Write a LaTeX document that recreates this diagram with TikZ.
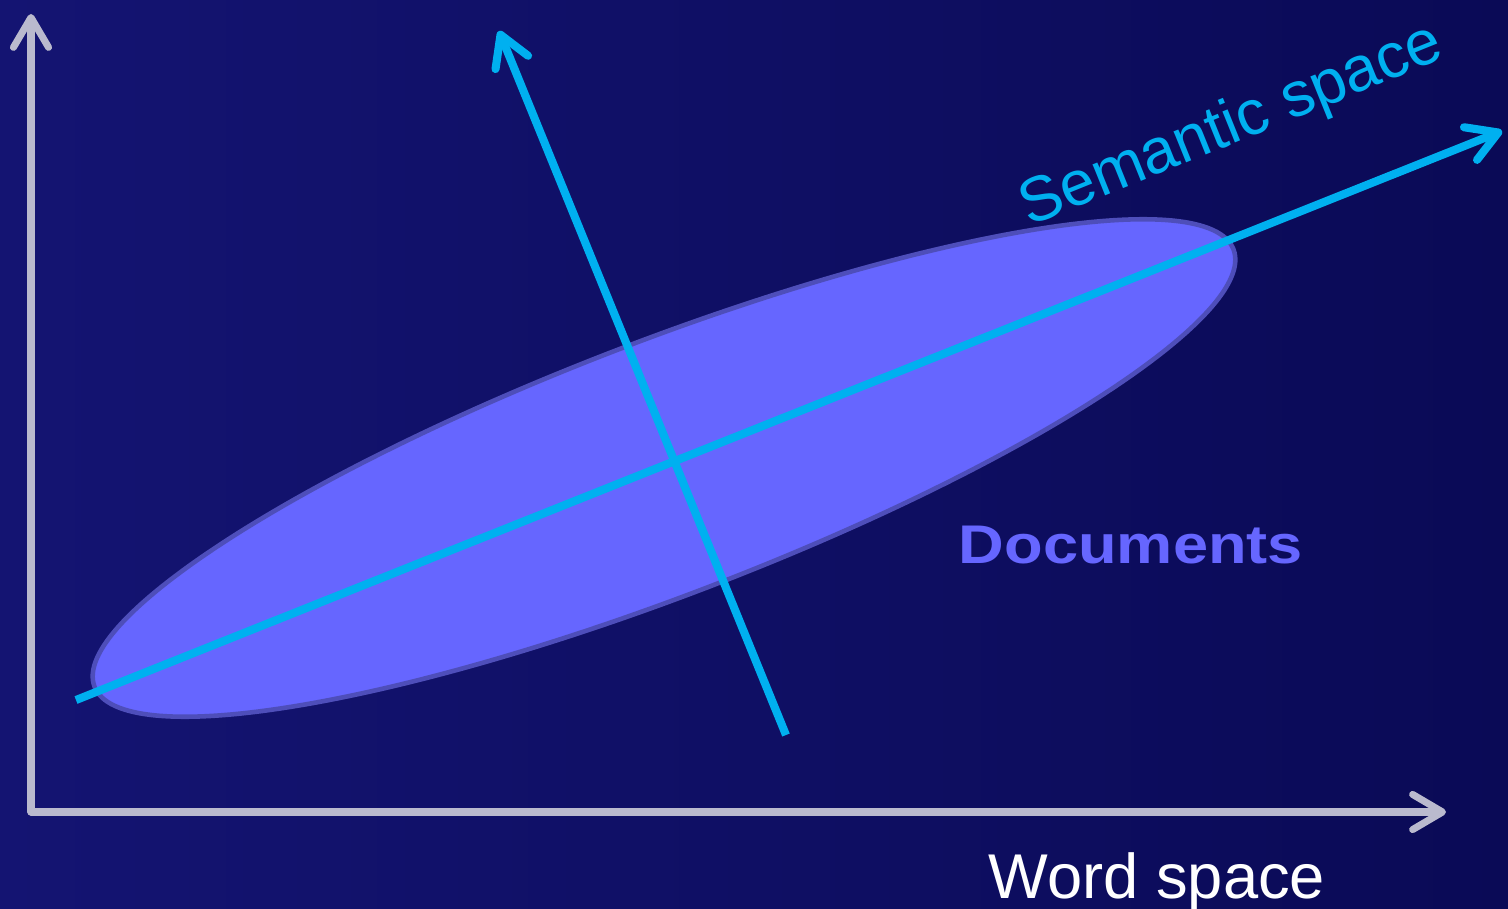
\documentclass[tikz,border=0pt]{standalone}
\usepackage{fontspec}
\setmainfont{Liberation Sans}
\usetikzlibrary{arrows.meta}

\definecolor{bgnavy}{RGB}{10,10,86}
\definecolor{bgnavylight}{RGB}{20,20,114}
\definecolor{axisgray}{RGB}{186,186,206}
\definecolor{semcyan}{RGB}{0,176,240}
\definecolor{docblue}{RGB}{102,102,255}
\definecolor{docedge}{RGB}{78,78,186}

\begin{document}
\begin{tikzpicture}[x=0.02cm, y=-0.02cm,
    barb/.style={-{Straight Barb[length=17pt,width=20pt,round]}},
    wordaxis/.style={axisgray, line width=4pt, line cap=round, barb},
    semaxis/.style={semcyan, line width=4.6pt, barb},
    bigtext/.style={font=\fontsize{36}{40}\selectfont, inner sep=0pt}]
    % Background
    \shade[left color=bgnavylight, right color=bgnavy] (0,0) rectangle (1508,909);
    \useasboundingbox (0,0) rectangle (1508,909);

    % Word space axes
    \coordinate (origin) at (31,812);
    \coordinate (ytip) at (31,14);
    \coordinate (xtip) at (1446,812);
    \foreach \t in {ytip,xtip} {
        \draw[wordaxis] (origin) -- (\t);
    }

    % Documents cloud
    \coordinate (docs) at (664,468);
    \filldraw[fill=docblue, draw=docedge, line width=2.6pt,
        rotate around={21:(docs)}] (docs) ellipse (610 and 127);

    % Semantic axes
    \coordinate (sem0) at (76,700);
    \coordinate (sem1) at (1502,131);
    \coordinate (perp0) at (786,735);
    \coordinate (perp1) at (499,31);
    \draw[semaxis] (sem0) -- (sem1);
    \draw[semaxis] (perp0) -- (perp1);

    % Labels
    \node[bigtext, semcyan, rotate=22, anchor=base] (semlabel) at (1238,142) {Semantic space};
    \node[bigtext, white, anchor=base] (wordlabel) at (1157,898) {Word space};
    \node[bigtext, docblue, anchor=base, font=\fontsize{31}{34}\selectfont\bfseries,
        xscale=1.16] (doclabel) at (1131,563) {Documents};
\end{tikzpicture}
\end{document}
